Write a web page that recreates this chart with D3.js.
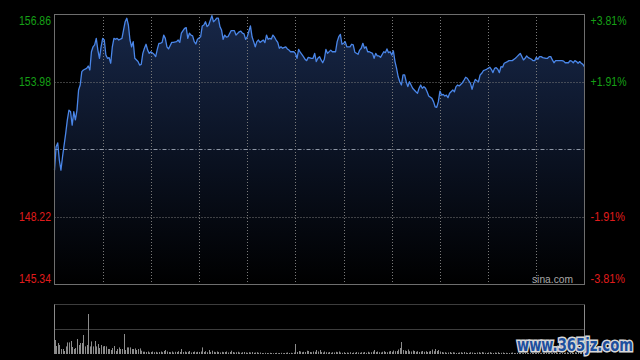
<!DOCTYPE html>
<html>
<head>
<meta charset="utf-8">
<script src="https://cdn.jsdelivr.net/npm/d3@7"></script>
<style>
  html, body { margin: 0; padding: 0; background: #000; }
  #container { width: 640px; height: 360px; }
</style>
</head>
<body>
<div id="container"></div>
<script>
// Intraday chart (HK session, 330 minutes) - price + volume
const prevClose = 151.10;
const priceTicks = [156.86, 153.98, 148.22, 145.34];
const gridMinutes = [30, 60, 90, 120, 150, 180, 210, 240, 270, 300];

// minutes since open / price
const minutes = [
  0, 1, 2, 3, 4, 5, 7, 8, 9, 10, 11, 12, 13, 14, 15, 16, 17, 18, 20, 21,
  22, 23, 24, 25, 26, 27, 28, 29, 30, 31, 32, 33, 34, 35, 36, 37, 38, 39, 40, 42,
  43, 44, 45, 46, 47, 48, 49, 50, 52, 53, 54, 55, 56, 57, 58, 59, 60, 62, 63, 64,
  65, 66, 67, 68, 69, 70, 71, 73, 74, 76, 77, 78, 79, 81, 82, 83, 84, 85, 86, 87,
  88, 89, 91, 92, 93, 94, 95, 96, 98, 99, 100, 101, 102, 103, 104, 105, 106, 107, 108, 110,
  111, 112, 113, 115, 116, 117, 118, 119, 120, 122, 123, 124, 125, 126, 127, 128, 130, 131, 132, 133,
  134, 135, 136, 137, 138, 139, 140, 141, 142, 144, 145, 146, 147, 149, 150, 151, 152, 153, 155, 156,
  157, 158, 160, 161, 162, 163, 164, 165, 166, 167, 168, 169, 170, 172, 173, 174, 175, 176, 177, 178,
  179, 180, 181, 182, 183, 184, 185, 186, 187, 189, 190, 191, 192, 193, 194, 195, 196, 198, 199, 200,
  201, 202, 203, 205, 206, 207, 208, 209, 210, 211, 212, 213, 214, 215, 216, 217, 218, 219, 220, 221,
  222, 223, 225, 226, 227, 228, 229, 230, 231, 232, 233, 235, 236, 237, 238, 239, 240, 241, 242, 243,
  244, 245, 246, 248, 249, 250, 251, 252, 254, 255, 256, 257, 259, 260, 261, 262, 263, 264, 265, 266,
  267, 268, 269, 271, 272, 273, 274, 275, 276, 277, 278, 279, 280, 282, 283, 284, 285, 287, 288, 289,
  290, 291, 292, 293, 294, 295, 297, 298, 299, 300, 301, 302, 303, 304, 306, 307, 308, 309, 310, 311,
  312, 313, 315, 316, 317, 318, 320, 321, 322, 323, 324, 325, 326, 327, 328, 329, 330
];
const prices = [
  150.20, 151.20, 151.36, 150.63, 150.20, 150.77, 151.78, 152.34, 152.76, 152.69, 152.12, 152.69, 152.34, 152.76, 153.62, 153.83, 154.40, 154.47, 154.54, 154.64,
  154.47, 155.25, 155.46, 155.54, 155.82, 155.32, 154.97, 155.46, 155.82, 155.75, 155.11, 154.97, 155.00, 154.76, 155.46, 155.82, 155.78, 155.82, 155.75, 155.82,
  156.18, 156.53, 156.68, 156.39, 155.75, 155.46, 155.68, 154.97, 154.83, 154.68, 154.71, 155.18, 155.40, 155.57, 155.32, 155.18, 155.25, 155.14, 155.04, 155.35,
  155.61, 155.61, 155.65, 155.96, 155.82, 155.46, 155.37, 155.65, 155.65, 155.68, 155.75, 155.65, 156.04, 156.25, 156.28, 155.82, 156.04, 155.96, 155.93, 155.68,
  155.58, 155.78, 155.89, 156.35, 156.39, 156.53, 156.32, 156.39, 156.79, 156.53, 156.60, 156.68, 156.68, 156.32, 156.18, 155.78, 155.96, 155.87, 155.89, 156.15,
  156.15, 156.15, 155.96, 156.10, 156.13, 156.04, 156.01, 155.78, 155.89, 156.35, 155.89, 155.68, 155.46, 155.68, 155.75, 155.65, 155.75, 155.64, 155.96, 155.78,
  155.82, 155.79, 155.96, 155.87, 155.75, 155.65, 155.40, 155.46, 155.40, 155.46, 155.37, 155.32, 155.25, 155.25, 155.18, 154.97, 155.35, 155.23, 155.04, 154.93,
  154.87, 155.01, 154.97, 154.97, 155.18, 154.83, 154.97, 155.04, 154.90, 154.78, 154.93, 155.35, 155.18, 155.32, 155.25, 155.25, 155.25, 155.68, 155.89, 155.99,
  155.57, 155.61, 155.68, 155.46, 155.46, 155.46, 155.57, 155.54, 155.23, 155.14, 155.32, 155.40, 155.61, 155.40, 155.46, 155.25, 155.25, 155.18, 154.97, 155.18,
  155.07, 155.07, 155.01, 155.25, 155.21, 155.37, 155.21, 155.25, 155.11, 155.29, 154.83, 154.54, 154.18, 153.97, 153.83, 154.26, 154.26, 153.97, 153.76, 153.97,
  153.83, 153.69, 153.54, 153.48, 153.69, 153.83, 153.69, 153.76, 153.69, 153.54, 153.36, 153.26, 153.12, 152.90, 152.88, 153.12, 153.57, 153.40, 153.43, 153.36,
  153.40, 153.29, 153.48, 153.62, 153.54, 153.76, 153.83, 153.79, 153.93, 154.04, 154.16, 154.12, 153.90, 153.65, 153.90, 154.07, 154.01, 153.97, 154.26, 154.33,
  154.44, 154.47, 154.50, 154.59, 154.50, 154.36, 154.54, 154.57, 154.50, 154.36, 154.61, 154.59, 154.76, 154.83, 154.87, 154.87, 154.87, 154.97, 155.04, 155.11,
  155.18, 155.04, 154.90, 154.97, 155.07, 155.00, 154.93, 154.87, 154.87, 155.01, 154.93, 155.04, 155.04, 155.00, 154.97, 154.97, 155.04, 155.04, 154.90, 154.78,
  154.87, 154.87, 154.87, 154.87, 154.85, 154.78, 154.78, 154.87, 154.85, 154.78, 154.87, 154.83, 154.76, 154.83, 154.76, 154.71, 154.60
];

// one bar per minute
const volumes = [
  140, 80, 110, 90, 50, 50, 30, 76, 116, 116,
  130, 70, 50, 60, 150, 90, 110, 110, 190, 76,
  90, 400, 76, 126, 76, 130, 76, 100, 60, 90,
  76, 80, 76, 50, 50, 40, 60, 80, 30, 50,
  66, 50, 50, 200, 40, 66, 66, 66, 50, 50,
  56, 40, 50, 56, 33, 23, 23, 20, 25, 15,
  20, 25, 18, 22, 15, 20, 25, 18, 30, 40,
  25, 20, 18, 25, 15, 22, 20, 28, 20, 50,
  20, 25, 18, 22, 30, 15, 20, 25, 18, 22,
  20, 25, 66, 20, 28, 18, 40, 20, 33, 22,
  18, 25, 20, 15, 22, 18, 20, 25, 15, 20,
  33, 20, 15, 18, 22, 15, 12, 18, 20, 15,
  12, 18, 15, 20, 12, 15, 18, 12, 15, 10,
  8, 12, 10, 8, 12, 10, 8, 10, 12, 8,
  10, 12, 8, 10, 12, 15, 10, 12, 8, 15,
  100, 20, 30, 25, 18, 22, 20, 33, 30, 20,
  18, 25, 22, 40, 25, 40, 20, 15, 25, 18,
  15, 20, 12, 18, 15, 22, 18, 25, 15, 12,
  18, 10, 15, 12, 18, 10, 15, 12, 20, 15,
  12, 18, 15, 20, 12, 22, 15, 18, 25, 40,
  20, 25, 18, 15, 22, 28, 20, 18, 25, 30,
  22, 35, 28, 30, 45, 60, 120, 40, 35, 30,
  45, 28, 25, 35, 30, 22, 28, 20, 25, 30,
  22, 28, 20, 25, 30, 45, 28, 50, 30, 40,
  25, 20, 15, 18, 12, 15, 20, 12, 18, 15,
  10, 12, 15, 18, 12, 20, 15, 10, 12, 18,
  15, 12, 10, 15, 18, 12, 20, 15, 12, 10,
  15, 18, 12, 10, 15, 12, 18, 10, 12, 15,
  10, 12, 8, 10, 12, 15, 10, 8, 12, 10,
  12, 8, 10, 15, 12, 10, 8, 12, 10, 15,
  12, 10, 8, 12, 10, 12, 15, 10, 12, 8,
  10, 12, 15, 10, 12, 8, 10, 12, 15, 18,
  12, 10, 15, 12, 18, 15, 20, 15, 18, 25, 30
];

const main = (container) => {
  const W = 640, H = 360;
  const left = 54.5, right = 584.5, top = 14, bottom = 284;
  const volTop = 305, volBottom = 354;

  const svg = d3.select(container)
    .append("svg")
    .attr("width", W)
    .attr("height", H)
    .style("background", "#000")
    .style("display", "block");

  const x = d3.scaleLinear().domain([0, 330]).range([left, right]);
  const y = d3.scaleLinear().domain([145.34, 156.86]).range([bottom, top]);
  const yVol = d3.scaleLinear().domain([0, 490]).range([volBottom, volTop]);
  const crisp = v => Math.round(v) + 0.5;

  // gradient sous la courbe
  const grad = svg.append("defs").append("linearGradient")
    .attr("id", "fillGrad")
    .attr("gradientUnits", "userSpaceOnUse")
    .attr("x1", 0).attr("y1", top).attr("x2", 0).attr("y2", bottom);
  grad.append("stop").attr("offset", "0%").attr("stop-color", "#172748");
  grad.append("stop").attr("offset", "55%").attr("stop-color", "#0a1120");
  grad.append("stop").attr("offset", "100%").attr("stop-color", "#000");

  const pts = minutes.map((m, i) => ({ m, p: prices[i] }));

  svg.append("path")
    .datum(pts)
    .attr("fill", "url(#fillGrad)")
    .attr("d", d3.area().x(d => x(d.m)).y0(bottom).y1(d => y(d.p)));

  // grille
  const grid = svg.append("g");
  grid.selectAll(".vgrid")
    .data(gridMinutes)
    .enter()
    .append("line")
    .attr("x1", d => crisp(x(d))).attr("x2", d => crisp(x(d)))
    .attr("y1", top).attr("y2", bottom)
    .attr("stroke", "#7a7a7a")
    .attr("stroke-dasharray", "1,2");

  grid.selectAll(".hgrid")
    .data(priceTicks.slice(1, 3))
    .enter()
    .append("line")
    .attr("x1", left).attr("x2", right)
    .attr("y1", d => crisp(y(d))).attr("y2", d => crisp(y(d)))
    .attr("stroke", "#7a7a7a")
    .attr("stroke-dasharray", "1,2");

  // ligne du cours précédent
  grid.append("line")
    .attr("x1", left).attr("x2", right)
    .attr("y1", crisp(y(prevClose))).attr("y2", crisp(y(prevClose)))
    .attr("stroke", "#8e97a6")
    .attr("stroke-dasharray", "4,2,1,2");

  // courbe
  svg.append("path")
    .datum(pts)
    .attr("fill", "none")
    .attr("stroke", "#4a86e8")
    .attr("stroke-width", 1.3)
    .attr("stroke-linejoin", "round")
    .attr("d", d3.line().x(d => x(d.m)).y(d => y(d.p)));

  // cadre
  svg.append("rect")
    .attr("x", left).attr("y", top + 0.5)
    .attr("width", right - left).attr("height", bottom - top)
    .attr("fill", "none")
    .attr("stroke", "#6e6e6e");

  // étiquettes prix / %
  const fmtPct = d => {
    const v = (d - prevClose) / prevClose * 100;
    return (v > 0 ? "+" : "") + v.toFixed(2) + "%";
  };
  const labelY = d => {
    const yy = y(d);
    if (yy <= top + 1) return top + 11;
    if (yy >= bottom - 1) return bottom - 1.3;
    return yy + 4;
  };
  const col = d => d > prevClose ? "#16a016" : "#e01c1c";

  svg.selectAll(".plabel")
    .data(priceTicks)
    .enter()
    .append("text")
    .attr("x", 51)
    .attr("y", labelY)
    .attr("text-anchor", "end")
    .attr("fill", col)
    .attr("textLength", 32)
    .attr("lengthAdjust", "spacingAndGlyphs")
    .style("font-family", "'Liberation Sans', Arial, sans-serif")
    .style("font-size", "12.5px")
    .text(d => d.toFixed(2));

  svg.selectAll(".pctlabel")
    .data(priceTicks)
    .enter()
    .append("text")
    .attr("x", 590.5)
    .attr("y", labelY)
    .attr("fill", col)
    .attr("textLength", d => d > prevClose ? 36 : 34.5)
    .attr("lengthAdjust", "spacingAndGlyphs")
    .style("font-family", "'Liberation Sans', Arial, sans-serif")
    .style("font-size", "12.5px")
    .text(fmtPct);

  svg.append("text")
    .attr("x", 532)
    .attr("y", 283)
    .attr("fill", "#a8a8a8")
    .attr("textLength", 41)
    .attr("lengthAdjust", "spacingAndGlyphs")
    .style("font-family", "'Liberation Sans', Arial, sans-serif")
    .style("font-size", "11.5px")
    .text("sina.com");

  // volume
  const vol = svg.append("g");
  [volTop, (volTop + volBottom) / 2].forEach(v => {
    vol.append("line")
      .attr("x1", left).attr("x2", right)
      .attr("y1", Math.round(v) - 0.5).attr("y2", Math.round(v) - 0.5)
      .attr("stroke", "#7a7a7a")
      .attr("stroke-dasharray", "1,1");
  });
  [left, right].forEach(v => {
    vol.append("line")
      .attr("x1", v).attr("x2", v)
      .attr("y1", volTop - 0.5).attr("y2", volBottom)
      .attr("stroke", "#8a8a8a");
  });

  vol.selectAll(".bar")
    .data(volumes)
    .enter()
    .append("rect")
    .attr("x", (d, i) => Math.round(x(i)))
    .attr("y", d => yVol(d))
    .attr("width", 1)
    .attr("height", d => volBottom - yVol(d))
    .attr("fill", "#8c8c8c");

  // filigrane
  svg.append("text")
    .attr("transform", "translate(517,351) scale(1,1.2)")
    .attr("fill", "#1d4f9e")
    .attr("stroke", "#d8d8d8")
    .attr("stroke-width", 2.5)
    .attr("paint-order", "stroke")
    .attr("textLength", 116)
    .attr("lengthAdjust", "spacingAndGlyphs")
    .style("font-family", "'DejaVu Sans Condensed', 'DejaVu Sans', sans-serif")
    .style("font-weight", "bold")
    .style("font-size", "14px")
    .text("www.365jz.com");
};

main(document.getElementById("container"));
</script>
</body>
</html>
